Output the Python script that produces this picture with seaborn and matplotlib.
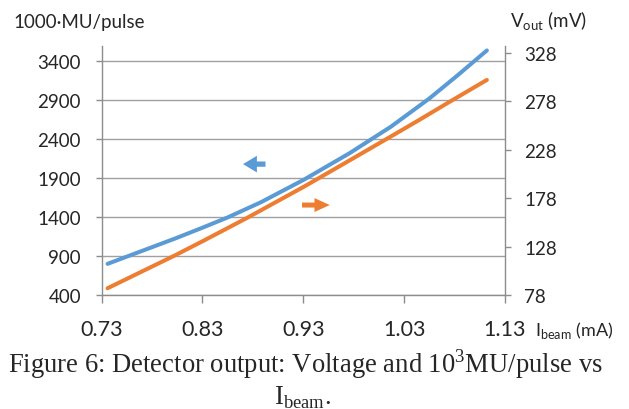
import pandas as pd
import seaborn as sns
import matplotlib.pyplot as plt

# 读图得到的数据
i_beam_mu = [0.736, 0.803, 0.830, 0.855, 0.888, 0.931, 0.976, 1.017, 1.055, 1.083, 1.112]
mu_pulse = [800, 1125, 1263, 1395, 1590, 1882, 2220, 2560, 2921, 3218, 3537]

i_beam_v = [0.736, 0.802, 0.832, 0.875, 0.931, 0.976, 1.010, 1.043, 1.076, 1.112]
v_out = [85, 118.5, 134.5, 158, 190, 217, 237.5, 257.5, 278, 300]

x_ticks = [0.73, 0.83, 0.93, 1.03, 1.13]
left_ticks = [400, 900, 1400, 1900, 2400, 2900, 3400]
right_ticks = [78, 128, 178, 228, 278, 328]

blue = "#5B9BD5"
orange = "#ED7D31"
gray = "#8c8c8c"

sns.set_style("white")
plt.rcParams['font.family'] = ['Lato', 'DejaVu Sans']
plt.rcParams['axes.unicode_minus'] = False

df_mu = pd.DataFrame({"I": i_beam_mu, "mu": mu_pulse})
df_v = pd.DataFrame({"I": i_beam_v, "v": v_out})

fig = plt.figure(figsize=(6.29, 4.10), dpi=100)
ax = fig.add_axes([0.1614, 0.278, 0.6415, 0.6085])
ax2 = ax.twinx()

sns.lineplot(data=df_mu, x="I", y="mu", ax=ax, color=blue, lw=2.9,
             solid_capstyle="round", solid_joinstyle="round")
sns.lineplot(data=df_v, x="I", y="v", ax=ax2, color=orange, lw=2.9,
             solid_capstyle="round", solid_joinstyle="round")

ax.set_xlim(0.73, 1.13)
ax.set_ylim(400, 3600)
ax2.set_ylim(78, 335.5)
ax.set_xticks(x_ticks)
ax.set_xticklabels([f"{t:.2f}" for t in x_ticks])
ax.set_yticks(left_ticks)
ax2.set_yticks(right_ticks)
ax.set_xlabel("")
ax.set_ylabel("")
ax2.set_ylabel("")

# 网格线和坐标轴
ax.grid(axis="y", color="#a0a0a0", lw=1.0)
ax.grid(axis="x", visible=False)
ax2.grid(False)
for a in (ax, ax2):
    for s in a.spines.values():
        s.set_visible(False)
ax.spines["left"].set_visible(True)
ax.spines["bottom"].set_visible(True)
ax2.spines["right"].set_visible(True)
for s in (ax.spines["left"], ax.spines["bottom"], ax2.spines["right"]):
    s.set_color(gray)
    s.set_linewidth(1.0)

ax.tick_params(axis="x", direction="out", length=5.8, width=1.0, color=gray,
               labelsize=15.5, pad=11.5, bottom=True)
ax.tick_params(axis="y", direction="out", length=4.3, width=1.0, color=gray,
               labelsize=13.5, pad=10.5, left=True)
ax2.tick_params(axis="y", direction="out", length=4.3, width=1.0, color=gray,
                labelsize=13.5, pad=9.4, right=True)

# 箭头
ax.annotate("", xy=(0.8675, 2079), xytext=(0.8953, 2079),
            arrowprops=dict(arrowstyle="simple,head_length=1.0,head_width=1.2,tail_width=0.38",
                            color=blue, lw=0, mutation_scale=10))
ax.annotate("", xy=(0.959, 1554), xytext=(0.926, 1554),
            arrowprops=dict(arrowstyle="simple,head_length=1.1,head_width=1.0,tail_width=0.36",
                            color=orange, lw=0, mutation_scale=10))

# 轴标题
fig.text(0.0207, 0.9317, "1000·MU/pulse", fontsize=13.5, ha="left", va="baseline")
fig.text(510 / 629, 0.9317, r"V$_\mathregular{out}$ (mV)", fontsize=13.5,
         ha="left", va="baseline")
fig.text(535 / 629, 1 - 336 / 410, r"I$_\mathregular{beam}$ (mA)", fontsize=13,
         ha="left", va="baseline")

# 图注
cap = dict(family=["Liberation Serif", "DejaVu Serif"], fontsize=19.2, ha="center",
           va="baseline")
fig.text(305 / 629, 1 - 373 / 410,
         r"Figure 6: Detector output: Voltage and 10$^\mathregular{3}$MU/pulse vs", **cap)
fig.text(303 / 629, 1 - 405 / 410, r"I$_\mathregular{beam}$.", **cap)

fig.savefig("out.png", dpi=100)
